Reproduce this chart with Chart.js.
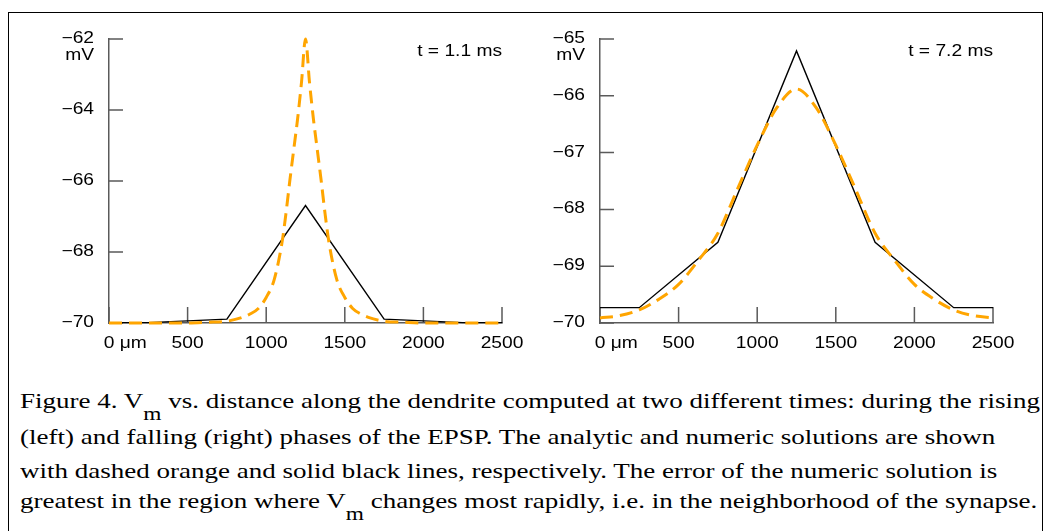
<!DOCTYPE html>
<html>
<head>
<meta charset="utf-8">
<script src="https://cdn.jsdelivr.net/npm/chart.js@4.4.1/dist/chart.umd.min.js"></script>
<style>
  html, body { margin: 0; padding: 0; background: #fff; }
  #page { position: relative; width: 1048px; height: 531px; overflow: hidden; background: #fff; }
  #frame { position: absolute; left: 8px; top: 12px; width: 1035px; height: 560px; border: 1.5px solid #000; box-sizing: border-box; }
  canvas { position: absolute; top: 0; }
  #leftChart { left: 0; }
  #rightChart { left: 491px; }
  .caption { position: absolute; left: 20px; font-family: 'Liberation Serif', 'Times New Roman', serif; font-size: 22px; line-height: 22px; white-space: nowrap; transform-origin: 0 0; color: #000; }
  .caption .sub { position: relative; top: 12px; font-size: 19px; }
</style>
</head>
<body>
<div id="page">
  <div id="frame"></div>
  <canvas id="leftChart" width="530" height="370"></canvas>
  <canvas id="rightChart" width="530" height="370"></canvas>
  <div class="caption" style="top:390px">Figure 4. V<span class="sub">m</span> vs. distance along the dendrite computed at two different times: during the rising</div>
  <div class="caption" style="top:426px">(left) and falling (right) phases of the EPSP. The analytic and numeric solutions are shown</div>
  <div class="caption" style="top:460px">with dashed orange and solid black lines, respectively. The error of the numeric solution is</div>
  <div class="caption" style="top:490px">greatest in the region where V<span class="sub">m</span> changes most rapidly, i.e. in the neighborhood of the synapse.</div>
</div>
<script>
// distance along the dendrite (µm) and membrane potential (mV)
const xTicks = [0, 500, 1000, 1500, 2000, 2500];

// left panel, t = 1.1 ms
const leftAnalyticX = [0, 250, 500, 625, 750, 850, 900, 950, 1000, 1050, 1100, 1125, 1150, 1175, 1200, 1225, 1250,
  1275, 1300, 1325, 1350, 1375, 1400, 1450, 1500, 1550, 1600, 1650, 1750, 1875, 2000, 2250, 2500];
const leftAnalyticV = [-70.00, -70.00, -70.00, -69.98, -69.95, -69.84, -69.74, -69.59, -69.28, -68.79, -67.75, -66.94, -66.00, -65.12, -64.24, -63.20, -62.00,
  -63.20, -64.24, -65.12, -66.00, -66.94, -67.75, -68.79, -69.28, -69.59, -69.74, -69.84, -69.95, -69.98, -70.00, -70.00, -70.00];
const leftNumericX = [0, 250, 750, 1250, 1750, 2250, 2500];
const leftNumericV = [-69.99, -69.99, -69.89, -66.69, -69.89, -69.99, -69.99];

// right panel, t = 7.2 ms
const rightAnalyticX = [0, 125, 250, 375, 500, 625, 750, 875, 1000, 1125, 1250, 1375, 1500, 1625, 1750, 1875, 2000, 2125, 2250, 2375, 2500];
const rightAnalyticV = [-69.91, -69.87, -69.77, -69.58, -69.32, -68.90, -68.42, -67.64, -66.87, -66.21, -65.88,
  -66.21, -66.87, -67.64, -68.42, -68.90, -69.32, -69.58, -69.77, -69.87, -69.91];
const rightNumericX = [0, 250, 750, 1250, 1750, 2250, 2500];
const rightNumericV = [-69.73, -69.73, -68.58, -65.21, -68.58, -69.73, -69.73];

const timeLabels = ['t = 1.1 ms', 't = 7.2 ms'];

const ORANGE = '#ffa500';
const AXIS = '#5a5a5a';
const LABEL_FONT = '16px "Liberation Sans", Arial, sans-serif';
const STRETCH = 1.2; // the source figure is a little wider than tall

function toPoints(xs, ys) {
  return xs.map((x, i) => ({ x: x, y: ys[i] }));
}

function drawText(ctx, text, x, y, align) {
  ctx.save();
  ctx.translate(x, y);
  ctx.scale(STRETCH, 1);
  ctx.textAlign = align;
  ctx.textBaseline = 'alphabetic';
  ctx.fillText(text, 0, 0);
  ctx.restore();
}

// inward tick marks, tick labels, unit and time labels
function axisDecor(timeLabel) {
  return {
    id: 'axisDecor',
    beforeDatasetsDraw(chart) {
      const ctx = chart.ctx;
      const area = chart.chartArea;
      const xs = chart.scales.x;
      const ys = chart.scales.y;
      ctx.save();
      ctx.strokeStyle = AXIS;
      ctx.lineWidth = 1.5;
      ctx.beginPath();
      xs.ticks.forEach(t => {
        const px = xs.getPixelForValue(t.value);
        ctx.moveTo(px, area.bottom);
        ctx.lineTo(px, area.bottom - 16);
      });
      ys.ticks.forEach(t => {
        const py = ys.getPixelForValue(t.value);
        ctx.moveTo(area.left, py);
        ctx.lineTo(area.left + 14, py);
      });
      ctx.stroke();
      ctx.restore();
    },
    afterDraw(chart) {
      const ctx = chart.ctx;
      const area = chart.chartArea;
      const xs = chart.scales.x;
      const ys = chart.scales.y;
      ctx.save();
      ctx.font = LABEL_FONT;
      ctx.fillStyle = '#000';

      xs.ticks.forEach(t => {
        const px = xs.getPixelForValue(t.value);
        drawText(ctx, String(t.value), px, area.bottom + 25, 'center');
        if (t.value === 0) {
          const half = ctx.measureText('0').width * STRETCH / 2;
          drawText(ctx, ' μm', px + half, area.bottom + 25, 'left');
        }
      });

      ys.ticks.forEach(t => {
        const py = ys.getPixelForValue(t.value);
        drawText(ctx, '\u2212' + Math.abs(t.value), area.left - 15, py + 4, 'right');
      });

      drawText(ctx, 'mV', area.left - 15, area.top + 21, 'right');
      drawText(ctx, timeLabel, area.right, area.top + 17, 'right');
      ctx.restore();
    }
  };
}

function buildChart(canvasId, opts) {
  return new Chart(document.getElementById(canvasId), {
    type: 'line',
    data: {
      datasets: [
        {
          label: 'analytic',
          data: toPoints(opts.analyticX, opts.analyticV),
          borderColor: ORANGE,
          borderWidth: 3,
          borderDash: [13, 7],
          pointRadius: 0,
          cubicInterpolationMode: 'monotone',
          clip: 6
        },
        {
          label: 'numeric',
          data: toPoints(opts.numericX, opts.numericV),
          borderColor: '#000',
          borderWidth: 1.4,
          pointRadius: 0,
          tension: 0,
          clip: 6
        }
      ]
    },
    options: {
      responsive: false,
      animation: false,
      events: [],
      layout: { padding: { top: 39, right: 28, left: 0, bottom: 0 } },
      plugins: {
        legend: { display: false },
        tooltip: { enabled: false }
      },
      scales: {
        x: {
          type: 'linear',
          min: 0,
          max: 2500,
          afterBuildTicks: scale => { scale.ticks = xTicks.map(v => ({ value: v })); },
          ticks: { display: false },
          grid: { display: false, drawTicks: false },
          border: { display: true, color: AXIS, width: 1.5 },
          afterFit: scale => { scale.height = 47; }
        },
        y: {
          type: 'linear',
          min: opts.yMin,
          max: opts.yMax,
          ticks: { display: false, stepSize: opts.yStep },
          grid: { display: false, drawTicks: false },
          border: { display: true, color: AXIS, width: 1.5 },
          afterFit: scale => { scale.width = 109; }
        }
      }
    },
    plugins: [axisDecor(opts.timeLabel)]
  });
}

buildChart('leftChart', {
  analyticX: leftAnalyticX, analyticV: leftAnalyticV,
  numericX: leftNumericX, numericV: leftNumericV,
  yMin: -70, yMax: -62, yStep: 2, timeLabel: timeLabels[0]
});

buildChart('rightChart', {
  analyticX: rightAnalyticX, analyticV: rightAnalyticV,
  numericX: rightNumericX, numericV: rightNumericV,
  yMin: -70, yMax: -65, yStep: 1, timeLabel: timeLabels[1]
});

// stretch caption lines the same way as the chart text
const captions = document.querySelectorAll('.caption');
const firstWidth = captions[0].getBoundingClientRect().width;
const factor = 1020 / firstWidth;
captions.forEach(el => { el.style.transform = 'scaleX(' + factor + ')'; });
</script>
</body>
</html>
